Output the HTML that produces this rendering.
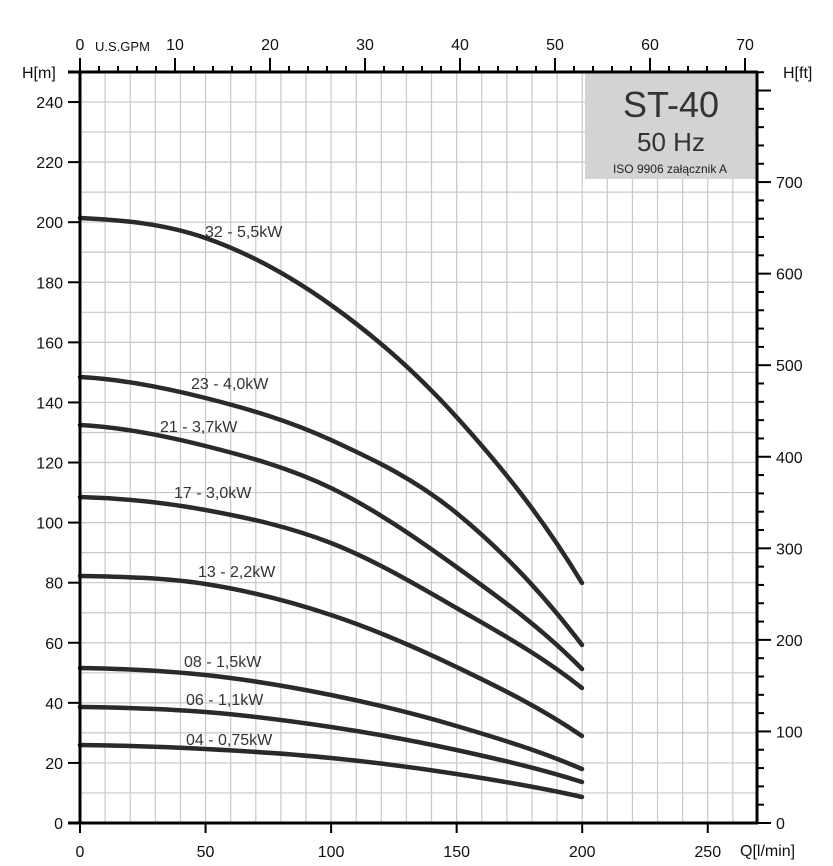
<!DOCTYPE html>
<html><head><meta charset="utf-8"><style>
html,body{margin:0;padding:0;background:#fff;}
svg{display:block;font-family:"Liberation Sans",sans-serif;}
</style></head><body>
<svg id="s" width="833" height="866" xmlns="http://www.w3.org/2000/svg">
<g id="grid" stroke="#c8c8c8" stroke-width="1.2"></g>
<rect x="585" y="72" width="172" height="107" fill="#d3d3d3"/>
<text x="671" y="117" font-size="36" text-anchor="middle" fill="#333">ST-40</text>
<text x="671" y="151" font-size="26" text-anchor="middle" fill="#333">50 Hz</text>
<text x="670" y="173" font-size="12" text-anchor="middle" fill="#222">ISO 9906 załącznik A</text>
<g id="curves" fill="none" stroke="#2a2a2a" stroke-width="4.5" stroke-linecap="round"></g>
<g id="axes" stroke="#000" stroke-width="3" fill="none">
<line x1="80" y1="72" x2="80" y2="824"/>
<line x1="68" y1="72" x2="758" y2="72"/>
<line x1="68" y1="823" x2="758" y2="823"/>
<line x1="757" y1="72" x2="757" y2="824"/>
</g>
<g id="ticks" stroke="#000" stroke-width="2"></g>
<g id="labels" font-size="16" fill="#111"></g>
<g font-size="16" fill="#333">
<text x="205" y="237">32 - 5,5kW</text>
<text x="191" y="389">23 - 4,0kW</text>
<text x="160" y="432">21 - 3,7kW</text>
<text x="174" y="498">17 - 3,0kW</text>
<text x="198" y="577">13 - 2,2kW</text>
<text x="184" y="667">08 - 1,5kW</text>
<text x="186" y="705">06 - 1,1kW</text>
<text x="186" y="745">04 - 0,75kW</text>
</g>
<text x="22" y="78" font-size="16" fill="#111">H[m]</text>
<text x="783" y="78" font-size="16" fill="#111">H[ft]</text>
<text x="95" y="51" font-size="13" fill="#111">U.S.GPM</text>
<text x="740" y="856" font-size="16" fill="#111">Q[l/min]</text>
</svg>
<script>
var NS="http://www.w3.org/2000/svg";
function el(p,t,a,txt){var e=document.createElementNS(NS,t);for(var k in a)e.setAttribute(k,a[k]);if(txt!==undefined)e.textContent=txt;document.getElementById(p).appendChild(e);}
for(var q=10;q<=270;q+=10){var x=80+q*2.511;el("grid","line",{x1:x,y1:72,x2:x,y2:823});}
for(var h=10;h<250;h+=10){var y=823-h*3.004;el("grid","line",{x1:80,y1:y,x2:757,y2:y});}
for(var h=0;h<=240;h+=20){var y=823-h*3.004;el("ticks","line",{x1:68,y1:y,x2:80,y2:y});el("labels","text",{x:63,y:y+6,"text-anchor":"end"},h);}
for(var q=0;q<=250;q+=50){var x=80+q*2.511;el("ticks","line",{x1:x,y1:823,x2:x,y2:833});el("labels","text",{x:x,y:857,"text-anchor":"middle"},q);}
for(var g=0;g<=70;g+=2){var x=80+g*9.5;var maj=g%10==0;el("ticks","line",{x1:x,y1:72,x2:x,y2:maj?58:66});if(maj)el("labels","text",{x:x,y:50,"text-anchor":"middle"},g);}
for(var f=0;f<=820;f+=20){var y=823-f*0.9156;if(y<72)break;var maj=f%100==0;el("ticks","line",{x1:757,y1:y,x2:maj?771:764,y2:y});if(maj&&f<=700)el("labels","text",{x:776,y:y+6},f);}
var xs=[80,205.5,331,456.5,582];
var C=[
[218,238,305,417,583],
[377,398,440,513,645],
[425,446,488,567,669],
[497,510,543,608,688],
[576,584,615,667,736],
[668,675,695,726,769],
[707,712,727,750,782],
[745,749,758,774,797]];
C.forEach(function(ys){
 var n=ys.length,h=xs[1]-xs[0],m=[];
 for(var i=0;i<n;i++){
  if(i==0)m.push(0.3*(ys[1]-ys[0])/h);
  else if(i==n-1)m.push(((ys[i]-ys[i-1])/h)*1.25);
  else m.push((ys[i+1]-ys[i-1])/(2*h));
 }
 var d="M"+xs[0]+","+ys[0];
 for(var i=0;i<n-1;i++){
  d+=" C"+(xs[i]+h/3)+","+(ys[i]+m[i]*h/3)+" "+(xs[i+1]-h/3)+","+(ys[i+1]-m[i+1]*h/3)+" "+xs[i+1]+","+ys[i+1];
 }
 el("curves","path",{d:d});
});
</script>
</body></html>
